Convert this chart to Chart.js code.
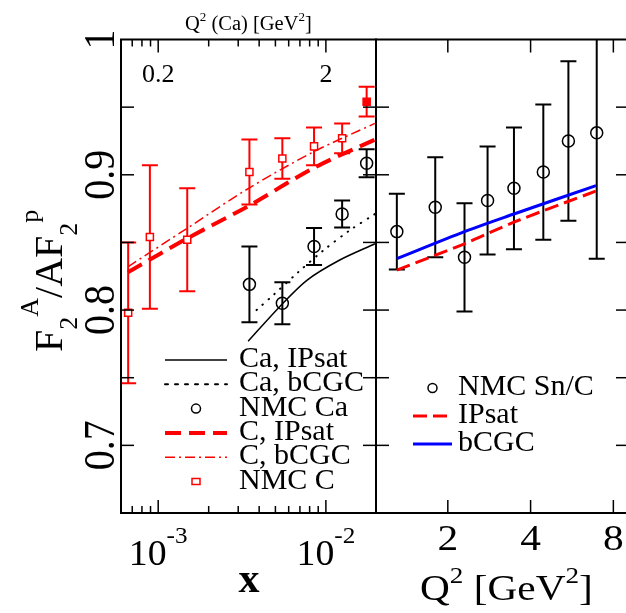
<!DOCTYPE html>
<html>
<head>
<meta charset="utf-8">
<script src="https://cdn.jsdelivr.net/npm/chart.js@4.4.1/dist/chart.umd.min.js"></script>
<style>
  html, body { margin: 0; padding: 0; background: #fff; overflow: hidden; }
  #wrap { position: relative; width: 626px; height: 613px; overflow: hidden; }
  canvas { position: absolute; top: 0; }
  #left { left: 0; }
  #right { left: 300px; }
</style>
</head>
<body>
<div id="wrap">
  <canvas id="left" width="390" height="613"></canvas>
  <canvas id="right" width="340" height="613"></canvas>
</div>
<script>
// ---- data ----
// left panel: NMC ratios vs Bjorken x
const nmcX = [0.0035, 0.0055, 0.0085, 0.0125, 0.0175];
const nmcCX = [6.62e-4, 8.92e-4, 1.49e-3, 0.0035, 0.0055, 0.0085, 0.0125, 0.0175];
const nmcC = [0.798, 0.854, 0.852, 0.902, 0.912, 0.921, 0.927, 0.954];
const nmcCErr = [0.052, 0.053, 0.038, 0.024, 0.015, 0.014, 0.011, 0.011];
const nmcCa = [0.819, 0.805, 0.847, 0.871, 0.9085];
const nmcCaErr = [0.028, 0.0155, 0.0136, 0.010, 0.0103];

// left panel: model curves
const caIpsatX = [3.44e-3, 5.3e-3, 7.7e-3, 0.0121, 0.0196];
const caIpsatY = [0.777, 0.8025, 0.822, 0.837, 0.849];
const caBcgcX = [3.86e-3, 4.85e-3, 6.84e-3, 9.64e-3, 0.0139, 0.0196];
const caBcgcY = [0.800, 0.811, 0.828, 0.844, 0.859, 0.871];
const cCurveX = [6.6e-4, 1.49e-3, 3.46e-3, 8.45e-3, 0.0196];
const cIpsatY = [0.828, 0.853, 0.877, 0.905, 0.926];
const cBcgcY = [0.832, 0.8605, 0.890, 0.917, 0.938];

// right panel: NMC Sn/C vs Q^2
const snQ2 = [1.305, 1.80, 2.30, 2.79, 3.48, 4.45, 5.49, 6.96];
const snRatio = [0.858, 0.876, 0.839, 0.881, 0.890, 0.902, 0.925, 0.931];
const snErr = [0.028, 0.037, 0.040, 0.040, 0.045, 0.050, 0.059, 0.093];
const snCurveQ2 = [1.305, 2.30, 3.48, 6.92];
const snIpsatY = [0.8296, 0.849, 0.865, 0.888];
const snBcgcY = [0.838, 0.858, 0.871, 0.892];

// ticks
const yTicks = [0.7, 0.75, 0.8, 0.85, 0.9, 0.95];
const yLabels = [0.7, 0.8, 0.9, 1];
const xMajor = [1e-3, 1e-2];
const xMinor = [7e-4, 8e-4, 9e-4, 2e-3, 3e-3, 4e-3, 5e-3, 6e-3, 7e-3, 8e-3, 9e-3];
const q2CaMajor = [0.2, 2];
const q2CaMinor = [0.14, 0.16, 0.18, 0.4, 0.6, 0.8, 1.0, 1.2, 1.4, 1.6, 1.8];
const q2Ticks = [2, 4, 8];

const SERIF = '"Liberation Serif", "DejaVu Serif", serif';
const RED = '#ff0000';
const BLUE = '#0000ff';

const pts = (xs, ys) => xs.map((x, i) => ({ x: x, y: ys[i] }));

// draw a run of text pieces: [text, size, dy, bold]; hs = horizontal stretch
function rich(ctx, parts, x, y, align, hs) {
  hs = hs || 1;
  const font = p => (p[3] ? 'bold ' : '') + p[1] + 'px ' + SERIF;
  let w = 0;
  parts.forEach(p => { ctx.font = font(p); w += ctx.measureText(p[0]).width; });
  w *= hs;
  const left = align === 'center' ? x - w / 2 : (align === 'right' ? x - w : x);
  ctx.save();
  ctx.translate(left, y);
  ctx.scale(hs, 1);
  ctx.textAlign = 'left';
  ctx.textBaseline = 'alphabetic';
  let cx = 0;
  parts.forEach(p => {
    ctx.font = font(p);
    ctx.fillText(p[0], cx, p[2] || 0);
    cx += ctx.measureText(p[0]).width;
  });
  ctx.restore();
}

function seg(ctx, x1, y1, x2, y2) {
  ctx.beginPath(); ctx.moveTo(x1, y1); ctx.lineTo(x2, y2); ctx.stroke();
}

// vertical error bars, drawn through the chart scales
const errorBars = {
  id: 'errorBars',
  beforeDatasetsDraw(chart) {
    const { ctx, chartArea: a, scales } = chart;
    ctx.save();
    ctx.beginPath();
    ctx.rect(a.left, a.top, a.right - a.left, a.bottom - a.top);
    ctx.clip();
    chart.data.datasets.forEach(ds => {
      if (!ds.errors) return;
      ctx.strokeStyle = ds.borderColor;
      ctx.lineWidth = 2;
      ds.data.forEach((p, j) => {
        const px = scales.x.getPixelForValue(p.x);
        const top = scales.y.getPixelForValue(p.y + ds.errors[j]);
        const bot = scales.y.getPixelForValue(p.y - ds.errors[j]);
        seg(ctx, px, top, px, bot);
        seg(ctx, px - 8, top, px + 8, top);
        seg(ctx, px - 8, bot, px + 8, bot);
      });
    });
    ctx.restore();
  }
};

// legend drawn inside the plot from the dataset styles
function drawLegend(ctx, datasets, x0, x1, textX, baseY, step, size) {
  datasets.forEach((ds, i) => {
    const by = baseY + i * step;
    const my = by - 7;
    ctx.save();
    ctx.strokeStyle = ds.borderColor;
    if (ds.showLine === false) {
      ctx.lineWidth = 1.5;
      const cx = (x0 + x1) / 2;
      if (ds.pointStyle === 'rect') {
        ctx.strokeRect(cx - 4, my - 3, 8, 6);
      } else {
        ctx.beginPath(); ctx.arc(cx, my, 4.5, 0, Math.PI * 2); ctx.stroke();
      }
    } else {
      ctx.lineWidth = ds.borderWidth;
      ctx.lineCap = ds.borderCapStyle || 'butt';
      ctx.setLineDash(ds.legendDash || ds.borderDash || []);
      seg(ctx, x0, my, x1, my);
    }
    ctx.restore();
    ctx.fillStyle = '#000';
    rich(ctx, [[ds.label, size]], textX, by, 'left');
  });
}

function frameAndYTicks(ctx, a, y) {
  ctx.strokeStyle = '#000';
  ctx.lineWidth = 2;
  ctx.strokeRect(a.left, a.top, a.right - a.left, a.bottom - a.top);
  ctx.lineWidth = 1.5;
  yTicks.forEach(v => {
    const py = y.getPixelForValue(v);
    seg(ctx, a.left, py, a.left + 13, py);
    seg(ctx, a.right, py, a.right - 13, py);
  });
}

const leftDecor = {
  id: 'leftDecor',
  afterDraw(chart) {
    const { ctx, chartArea: a, scales } = chart;
    const x = scales.x, x2 = scales.x2, y = scales.y;
    ctx.save();
    frameAndYTicks(ctx, a, y);
    xMajor.forEach(v => { const px = x.getPixelForValue(v); seg(ctx, px, a.bottom, px, a.bottom - 13); });
    xMinor.forEach(v => { const px = x.getPixelForValue(v); seg(ctx, px, a.bottom, px, a.bottom - 7); });
    q2CaMajor.forEach(v => { const px = x2.getPixelForValue(v); seg(ctx, px, a.top, px, a.top + 13); });
    q2CaMinor.forEach(v => { const px = x2.getPixelForValue(v); seg(ctx, px, a.top, px, a.top + 7); });

    ctx.fillStyle = '#000';
    // y tick labels, rotated
    yLabels.forEach(v => {
      ctx.save();
      ctx.translate(114, y.getPixelForValue(v));
      ctx.rotate(-Math.PI / 2);
      ctx.scale(1, 1.1);
      ctx.font = '40px ' + SERIF;
      ctx.textAlign = 'center';
      ctx.textBaseline = 'alphabetic';
      ctx.fillText(String(v), 0, 0);
      ctx.restore();
    });
    // y title
    ctx.save();
    ctx.translate(62, 352);
    ctx.rotate(-Math.PI / 2);
    rich(ctx, [['F', 40], ['2', 26, 15], ['A', 26, -24], ['/', 40], ['A', 40], ['F', 40], ['2', 26, 15], ['p', 26, -24]], 0, 0, 'left');
    ctx.restore();
    // bottom tick labels
    rich(ctx, [['10', 36], ['-3', 24, -22]], x.getPixelForValue(1e-3), 565, 'center', 1.05);
    rich(ctx, [['10', 36], ['-2', 24, -22]], x.getPixelForValue(1e-2), 565, 'center', 1.05);
    rich(ctx, [['x', 42, 0, true]], 249, 592, 'center');
    // top axis labels
    q2CaMajor.forEach(v => rich(ctx, [[String(v), 26]], x2.getPixelForValue(v), 82, 'center'));
    rich(ctx, [['Q', 20.5], ['2', 13, -9], [' (Ca) [GeV', 20.5], ['2', 13, -9], [']', 20.5]], 185, 30, 'left');

    drawLegend(ctx, chart.data.datasets, 165, 227, 239, 367, 24.3, 30);
    ctx.restore();
  }
};

const rightDecor = {
  id: 'rightDecor',
  afterDraw(chart) {
    const { ctx, chartArea: a, scales } = chart;
    const x = scales.x, y = scales.y;
    ctx.save();
    frameAndYTicks(ctx, a, y);
    q2Ticks.forEach(v => {
      const px = x.getPixelForValue(v);
      seg(ctx, px, a.bottom, px, a.bottom - 13);
      seg(ctx, px, a.top, px, a.top + 13);
    });
    ctx.fillStyle = '#000';
    q2Ticks.forEach(v => rich(ctx, [[String(v), 36]], x.getPixelForValue(v), 550, 'center', 1.15));
    rich(ctx, [['Q', 35], ['2', 23, -17], [' [GeV', 35], ['2', 23, -17], [']', 35]], 120, 600, 'left', 1.18);
    drawLegend(ctx, chart.data.datasets, 113, 152, 158, 395, 28, 30);
    ctx.restore();
  }
};

new Chart(document.getElementById('left'), {
  type: 'line',
  data: {
    datasets: [
      { label: 'Ca, IPsat', data: pts(caIpsatX, caIpsatY), borderColor: '#000', borderWidth: 1.5,
        pointRadius: 0, tension: 0.3 },
      { label: 'Ca, bCGC', data: pts(caBcgcX, caBcgcY), borderColor: '#000', borderWidth: 2,
        borderDash: [0.5, 7.5], borderCapStyle: 'round', legendDash: [3, 7], pointRadius: 0, tension: 0.3 },
      { label: 'NMC Ca', data: pts(nmcX, nmcCa), showLine: false, errors: nmcCaErr,
        pointStyle: 'circle', pointRadius: 6, borderColor: '#000', pointBorderWidth: 1.5, backgroundColor: 'rgba(0,0,0,0)' },
      { label: 'C, IPsat', data: pts(cCurveX, cIpsatY), borderColor: RED, borderWidth: 4,
        borderDash: [16, 8], pointRadius: 0, tension: 0.3 },
      { label: 'C, bCGC', data: pts(cCurveX, cBcgcY), borderColor: RED, borderWidth: 1.5,
        borderDash: [10, 4, 2, 4], pointRadius: 0, tension: 0.3 },
      { label: 'NMC C', data: pts(nmcCX, nmcC), showLine: false, errors: nmcCErr,
        pointStyle: 'rect', pointRadius: 5, borderColor: RED, pointBorderWidth: 1.5,
        pointBackgroundColor: c => c.dataIndex === nmcC.length - 1 ? RED : '#fff' }
    ]
  },
  options: {
    responsive: false,
    animation: false,
    layout: { padding: { left: 121, right: 14, top: 39.5, bottom: 100 } },
    plugins: { legend: { display: false }, tooltip: { enabled: false } },
    scales: {
      x: { type: 'logarithmic', min: 6e-4, max: 0.0199, display: false },
      x2: { type: 'logarithmic', axis: 'x', position: 'top', min: 0.12, max: 3.98, display: false },
      y: { type: 'linear', min: 0.65, max: 1.0, display: false }
    }
  },
  plugins: [errorBars, leftDecor]
});

new Chart(document.getElementById('right'), {
  type: 'line',
  data: {
    datasets: [
      { label: 'NMC Sn/C', data: pts(snQ2, snRatio), showLine: false, errors: snErr,
        pointStyle: 'circle', pointRadius: 6, borderColor: '#000', pointBorderWidth: 1.5, backgroundColor: 'rgba(0,0,0,0)' },
      { label: 'IPsat', data: pts(snCurveQ2, snIpsatY), borderColor: RED, borderWidth: 3,
        borderDash: [14, 6], pointRadius: 0, tension: 0.3 },
      { label: 'bCGC', data: pts(snCurveQ2, snBcgcY), borderColor: BLUE, borderWidth: 3,
        pointRadius: 0, tension: 0.3 }
    ]
  },
  options: {
    responsive: false,
    animation: false,
    layout: { padding: { left: 76, right: 11, top: 39.5, bottom: 100 } },
    plugins: { legend: { display: false }, tooltip: { enabled: false } },
    scales: {
      x: { type: 'logarithmic', min: 1.096, max: 9.12, display: false },
      y: { type: 'linear', min: 0.65, max: 1.0, display: false }
    }
  },
  plugins: [errorBars, rightDecor]
});
</script>
</body>
</html>
